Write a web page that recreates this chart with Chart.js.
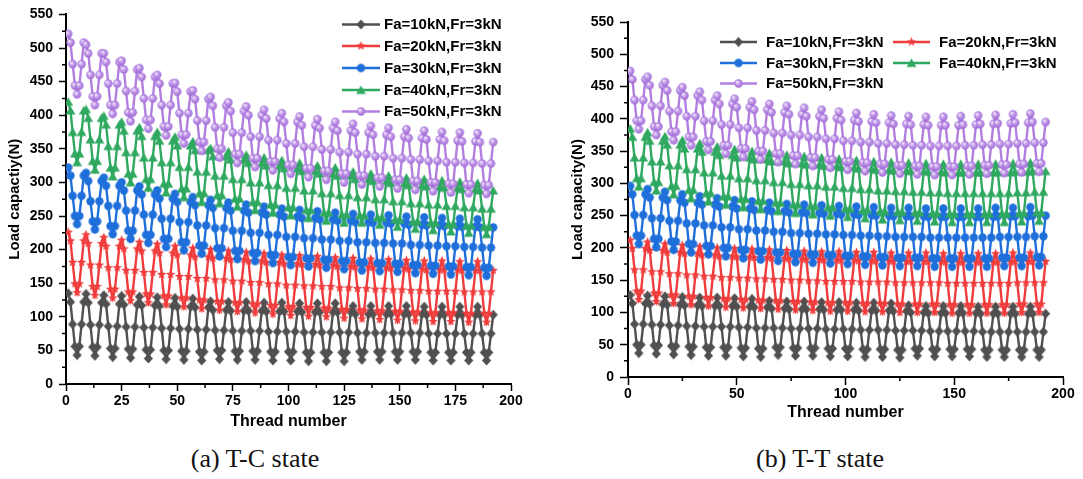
<!DOCTYPE html>
<html>
<head>
<meta charset="utf-8">
<script src="https://cdn.jsdelivr.net/npm/chart.js@4.4.1/dist/chart.umd.min.js"></script>
<style>
  body { margin: 0; background: #fff; }
  #wrap { position: relative; width: 1083px; height: 479px; overflow: hidden; }
  canvas { position: absolute; top: 0; }
  #chartA { left: 0; }
  #chartB { left: 545px; }
  .caption { position: absolute; top: 444px; font-family: "Liberation Serif", "Times New Roman", serif; font-size: 26px; color: #111; transform: translateX(-50%); white-space: nowrap; }
</style>
</head>
<body>
<div id="wrap">
  <canvas id="chartA" width="540" height="440"></canvas>
  <canvas id="chartB" width="538" height="440"></canvas>
  <div class="caption" style="left:255px">(a) T-C state</div>
  <div class="caption" style="left:820px">(b) T-T state</div>
</div>
<script>
// thread index along the nut, 192 threads
var threads = Array.from({ length: 192 }, function (_, i) { return i + 1; });

var seriesLabels = ["Fa=10kN,Fr=3kN", "Fa=20kN,Fr=3kN", "Fa=30kN,Fr=3kN", "Fa=40kN,Fr=3kN", "Fa=50kN,Fr=3kN"];

// (a) T-C state, load on each thread (N)
var aF10 = [
  135,122,89,56,43,56,89,122, 134,121,88,55,42,55,88,121,
  132,119,86,53,40,53,86,119, 131,118,85,52,39,52,85,118,
  130,117,84,51,38,51,84,117, 129,116,83,50,37,50,83,116,
  128,115,82,49,36,49,82,115, 127,114,81,48,35,48,81,114,
  123,110,80,50,37,50,80,110, 122,109,79,49,36,49,79,109,
  122,109,79,49,36,49,79,109, 121,108,78,48,35,48,78,108,
  121,108,78,48,35,48,78,108, 120,107,77,47,34,47,77,107,
  120,107,77,47,34,47,77,107, 120,107,77,47,34,47,77,107,
  116,104,76,48,36,48,76,104, 116,104,76,48,36,48,76,104,
  116,104,76,48,36,48,76,104, 116,104,76,48,36,48,76,104,
  115,103,75,47,35,47,75,103, 115,103,75,47,35,47,75,103,
  115,103,75,47,35,47,75,103, 115,103,75,47,35,47,75,103
];
var aF20 = [
  226,213,181,149,136,149,181,213, 222,209,177,145,132,145,177,209,
  218,205,173,141,128,141,173,205, 214,201,169,137,124,137,169,201,
  211,198,166,134,121,134,166,198, 208,195,163,131,118,131,163,195,
  205,192,160,128,115,128,160,192, 202,189,157,125,112,125,157,189,
  200,187,155,123,110,123,155,187, 198,185,153,121,108,121,153,185,
  196,183,151,119,106,119,151,183, 194,181,149,117,104,117,149,181,
  192,179,147,115,102,115,147,179, 191,178,146,114,101,114,146,178,
  190,177,145,113,100,113,145,177, 188,175,143,111,98,111,143,175,
  187,174,142,110,97,110,142,174, 186,173,141,109,96,109,141,173,
  185,172,140,108,95,108,140,172, 184,171,139,107,94,107,139,171,
  183,170,138,106,93,106,138,170, 183,170,138,106,93,106,138,170,
  182,169,137,105,92,105,137,169, 182,169,137,105,92,105,137,169
];
var aF30 = [
  322,310,280,250,238,250,280,310, 314,302,272,242,230,242,272,302,
  307,295,265,235,223,235,265,295, 300,288,258,228,216,228,258,288,
  294,282,252,222,210,222,252,282, 288,276,246,216,204,216,246,276,
  283,271,241,211,199,211,241,271, 278,266,236,206,194,206,236,266,
  274,262,232,202,190,202,232,262, 270,258,228,198,186,198,228,258,
  267,255,225,195,183,195,225,255, 264,252,222,192,180,192,222,252,
  261,249,219,189,177,189,219,249, 259,247,217,187,175,187,217,247,
  257,245,215,185,173,185,215,245, 255,243,213,183,171,183,213,243,
  253,241,211,181,169,181,211,241, 252,240,210,180,168,180,210,240,
  251,239,209,179,167,179,209,239, 249,237,207,177,165,177,207,237,
  248,236,206,176,164,176,206,236, 247,235,205,175,163,175,205,235,
  246,234,204,174,162,174,204,234, 245,233,203,173,161,173,203,233
];
var aF40 = [
  420,407,375,343,330,343,375,407, 409,396,364,332,319,332,364,396,
  399,386,354,322,309,322,354,386, 390,377,345,313,300,313,345,377,
  382,369,337,305,292,305,337,369, 375,362,330,298,285,298,330,362,
  368,355,323,291,278,291,323,355, 361,348,316,284,271,284,316,348,
  351,339,310,281,269,281,310,339, 346,334,305,276,264,276,305,334,
  341,329,300,271,259,271,300,329, 337,325,296,267,255,267,296,325,
  333,321,292,263,251,263,292,321, 329,317,288,259,247,259,288,317,
  325,313,284,255,243,255,284,313, 322,310,281,252,240,252,281,310,
  316,305,278,251,240,251,278,305, 313,302,275,248,237,248,275,302,
  310,299,272,245,234,245,272,299, 307,296,269,242,231,242,269,296,
  305,294,267,240,229,240,267,294, 303,292,265,238,227,238,265,292,
  301,290,263,236,225,236,263,290, 299,288,261,234,223,234,261,288
];
var aF50 = [
  521,508,476,444,431,444,476,508, 505,492,460,428,415,428,460,492,
  492,479,447,415,402,415,447,479, 481,468,436,404,391,404,436,468,
  470,457,425,393,380,393,425,457, 460,447,415,383,370,383,415,447,
  448,435,403,371,358,371,403,435, 437,424,392,360,347,360,392,424,
  427,414,382,350,337,350,382,414, 419,406,374,342,329,342,374,406,
  413,400,368,336,323,336,368,400, 408,395,363,331,318,331,363,395,
  403,390,358,326,313,326,358,390, 398,385,353,321,308,321,353,385,
  394,381,349,317,304,317,349,381, 390,377,345,313,300,313,345,377,
  387,374,342,310,297,310,342,374, 384,371,339,307,294,307,339,371,
  381,368,336,304,291,304,336,368, 379,366,334,302,289,302,334,366,
  377,364,332,300,287,300,332,364, 375,362,330,298,285,298,330,362,
  374,361,329,297,284,297,329,361, 373,360,328,296,283,296,328,360
];

// (b) T-T state, load on each thread (N)
var bF10 = [
  127,114,82,50,37,50,82,114, 126,113,81,49,36,49,81,113,
  125,112,80,48,35,48,80,112, 124,111,79,47,34,47,79,111,
  123,110,78,46,33,46,78,110, 123,110,78,46,33,46,78,110,
  122,109,77,45,32,45,77,109, 121,108,76,44,31,44,76,108,
  118,106,76,46,34,46,76,106, 117,105,75,45,33,45,75,105,
  117,105,75,45,33,45,75,105, 116,104,74,44,32,44,74,104,
  116,104,74,44,32,44,74,104, 115,103,73,43,31,43,73,103,
  115,103,73,43,31,43,73,103, 114,102,72,42,30,42,72,102,
  111,100,72,44,33,44,72,100, 110,99,71,43,32,43,71,99,
  110,99,71,43,32,43,71,99, 110,99,71,43,32,43,71,99,
  109,98,70,42,31,42,70,98, 109,98,70,42,31,42,70,98,
  109,98,70,42,31,42,70,98, 109,98,70,42,31,42,70,98
];
var bF20 = [
  212,199,166,133,120,133,166,199, 209,196,163,130,117,130,163,196,
  206,193,160,127,114,127,160,193, 204,191,158,125,112,125,158,191,
  202,189,156,123,110,123,156,189, 200,187,154,121,108,121,154,187,
  199,186,153,120,107,120,153,186, 198,185,152,119,106,119,152,185,
  197,184,151,118,105,118,151,184, 196,183,150,117,104,117,150,183,
  195,182,149,116,103,116,149,182, 194,181,148,115,102,115,148,181,
  194,181,148,115,102,115,148,181, 193,180,147,114,101,114,147,180,
  193,180,147,114,101,114,147,180, 192,179,146,113,100,113,146,179,
  192,179,146,113,100,113,146,179, 192,179,146,113,100,113,146,179,
  191,178,145,112,99,112,145,178, 191,178,145,112,99,112,145,178,
  191,178,145,112,99,112,145,178, 191,178,145,112,99,112,145,178,
  192,179,146,113,100,113,146,179, 192,179,146,113,100,113,146,179
];
var bF30 = [
  296,283,251,219,206,219,251,283, 291,278,246,214,201,214,246,278,
  287,274,242,210,197,210,242,274, 283,270,238,206,193,206,238,270,
  280,267,235,203,190,203,235,267, 277,264,232,200,187,200,232,264,
  274,261,229,197,184,197,229,261, 272,259,227,195,182,195,227,259,
  270,257,225,193,180,193,225,257, 268,255,223,191,178,191,223,255,
  267,254,222,190,177,190,222,254, 266,253,221,189,176,189,221,253,
  265,252,220,188,175,188,220,252, 264,251,219,187,174,187,219,251,
  263,250,218,186,173,186,218,250, 262,249,217,185,172,185,217,249,
  262,249,217,185,172,185,217,249, 261,248,216,184,171,184,216,248,
  261,248,216,184,171,184,216,248, 261,248,216,184,171,184,216,248,
  261,248,216,184,171,184,216,248, 262,249,217,185,172,185,217,249,
  262,249,217,185,172,185,217,249, 263,250,218,186,173,186,218,250
];
var bF40 = [
  385,372,340,308,295,308,340,372, 379,366,334,302,289,302,334,366,
  373,360,328,296,283,296,328,360, 367,354,322,290,277,290,322,354,
  362,349,317,285,272,285,317,349, 357,344,312,280,267,280,312,344,
  353,340,308,276,263,276,308,340, 350,337,305,273,260,273,305,337,
  347,334,302,270,257,270,302,334, 344,331,299,267,254,267,299,331,
  342,329,297,265,252,265,297,329, 340,327,295,263,250,263,295,327,
  338,325,293,261,248,261,293,325, 336,323,291,259,246,259,291,323,
  334,321,289,257,244,257,289,321, 333,320,288,256,243,256,288,320,
  332,319,287,255,242,255,287,319, 331,318,286,254,241,254,286,318,
  330,317,285,253,240,253,285,317, 330,317,285,253,240,253,285,317,
  330,317,285,253,240,253,285,317, 330,317,285,253,240,253,285,317,
  331,318,286,254,241,254,286,318, 332,319,287,255,242,255,287,319
];
var bF50 = [
  474,461,429,397,384,397,429,461, 465,452,420,388,375,388,420,452,
  457,444,412,380,367,380,412,444, 449,436,404,372,359,372,404,436,
  442,429,397,365,352,365,397,429, 436,423,391,359,346,359,391,423,
  431,418,386,354,341,354,386,418, 427,414,382,350,337,350,382,414,
  423,410,378,346,333,346,378,410, 420,407,375,343,330,343,375,407,
  417,404,372,340,327,340,372,404, 414,401,369,337,324,337,369,401,
  411,398,366,334,321,334,366,398, 409,396,364,332,319,332,364,396,
  407,394,362,330,317,330,362,394, 405,392,360,328,315,328,360,392,
  404,391,359,327,314,327,359,391, 403,390,358,326,313,326,358,390,
  403,390,358,326,313,326,358,390, 404,391,359,327,314,327,359,391,
  405,392,360,328,315,328,360,392, 406,393,361,329,316,329,361,393,
  407,394,362,330,317,330,362,394, 408,395,363,331,318,331,363,395
];

var FONT = '"Liberation Sans", Arial, sans-serif';

// marker glyphs drawn once and reused by both charts and the legends
function marker(kind, fill) {
  var c = document.createElement("canvas");
  c.width = 11; c.height = 11;
  var g = c.getContext("2d");
  g.translate(5.5, 5.5);
  g.beginPath();
  if (kind === "diamond") {
    g.moveTo(0, -5); g.lineTo(4.6, 0); g.lineTo(0, 5); g.lineTo(-4.6, 0);
  } else if (kind === "star") {
    for (var i = 0; i < 10; i++) {
      var r = i % 2 ? 2.1 : 5;
      var a = -Math.PI / 2 + i * Math.PI / 5;
      g.lineTo(r * Math.cos(a), r * Math.sin(a));
    }
  } else if (kind === "triangle") {
    g.moveTo(0, -4.6); g.lineTo(4.9, 4); g.lineTo(-4.9, 4);
  } else {
    g.arc(0, 0, 4.2, 0, Math.PI * 2);
  }
  g.closePath();
  if (kind === "sphere") {
    var grad = g.createRadialGradient(-1.4, -1.6, 0.4, 0, 0, 4.4);
    grad.addColorStop(0, "#f3e8fc");
    grad.addColorStop(0.45, "#c29ae8");
    grad.addColorStop(1, "#9b63d6");
    g.fillStyle = grad;
  } else {
    g.fillStyle = fill;
  }
  g.fill();
  return c;
}

var colors = ["#505050", "#f03c3c", "#1f6fdb", "#2fa860", "#b27fe0"];
var glyphs = [
  marker("diamond", colors[0]),
  marker("star", colors[1]),
  marker("circle", colors[2]),
  marker("triangle", colors[3]),
  marker("sphere", colors[4])
];

function toPoints(values) {
  return values.map(function (v, i) { return { x: threads[i], y: v }; });
}

function buildDatasets(seriesList) {
  return seriesList.map(function (values, i) {
    return {
      label: seriesLabels[i],
      data: toPoints(values),
      borderColor: colors[i],
      backgroundColor: colors[i],
      borderWidth: 2.4,
      pointStyle: glyphs[i],
      pointRadius: 4,
      tension: 0,
      order: 5 - i
    };
  });
}

// line + marker + text legend entries
var lineLegend = {
  id: "lineLegend",
  afterDraw: function (chart, args, opts) {
    var ctx = chart.ctx;
    opts.items.forEach(function (it) {
      var ds = chart.data.datasets[it.i];
      ctx.save();
      ctx.strokeStyle = ds.borderColor;
      ctx.lineWidth = 2.4;
      ctx.beginPath();
      ctx.moveTo(it.x, it.y);
      ctx.lineTo(it.x + opts.len, it.y);
      ctx.stroke();
      var img = ds.pointStyle;
      ctx.drawImage(img, it.x + opts.len / 2 - img.width / 2, it.y - img.height / 2);
      ctx.fillStyle = "#000";
      ctx.font = "bold 15px " + FONT;
      ctx.textBaseline = "middle";
      ctx.fillText(ds.label, it.x + opts.len + opts.gap, it.y + 0.5);
      ctx.restore();
    });
  }
};

// short unlabeled ticks between the major ones
var minorTicks = {
  id: "minorTicks",
  afterDraw: function (chart, args, opts) {
    var ctx = chart.ctx;
    var xs = chart.scales.x, ys = chart.scales.y;
    ctx.save();
    ctx.strokeStyle = "#000";
    ctx.lineWidth = 1.5;
    ctx.beginPath();
    for (var v = opts.xStep; v < xs.max; v += opts.xStep * 2) {
      var px = xs.getPixelForValue(v);
      ctx.moveTo(px, ys.bottom);
      ctx.lineTo(px, ys.bottom + 4);
    }
    for (var w = opts.yStep; w < ys.max; w += opts.yStep * 2) {
      var py = ys.getPixelForValue(w);
      ctx.moveTo(xs.left, py);
      ctx.lineTo(xs.left - 4, py);
    }
    ctx.stroke();
    ctx.restore();
  }
};

function makeChart(id, seriesList, cfg) {
  var ctx = document.getElementById(id).getContext("2d");
  return new Chart(ctx, {
    type: "line",
    data: { datasets: buildDatasets(seriesList) },
    plugins: [lineLegend, minorTicks],
    options: {
      responsive: false,
      animation: false,
      layout: { padding: cfg.padding },
      plugins: {
        legend: { display: false },
        tooltip: { enabled: false },
        lineLegend: cfg.legend,
        minorTicks: { xStep: cfg.xStep / 2, yStep: 25 }
      },
      scales: {
        x: {
          type: "linear",
          min: 0,
          max: 200,
          afterFit: function (s) { s.height = cfg.xHeight; },
          border: { color: "#000", width: 2 },
          grid: { drawOnChartArea: false, tickLength: cfg.tickLen, tickWidth: 1.5, tickColor: "#000" },
          ticks: { stepSize: cfg.xStep, color: "#000", padding: cfg.xPad, maxRotation: 0, font: { family: FONT, size: 14, weight: "bold" } },
          title: { display: true, text: "Thread number", color: "#000", padding: { top: 0, bottom: cfg.xTitlePad }, font: { family: FONT, size: 16, weight: "bold" } }
        },
        y: {
          min: 0,
          max: 550,
          afterFit: function (s) { s.width = cfg.yWidth; },
          border: { color: "#000", width: 2 },
          grid: { drawOnChartArea: false, tickLength: cfg.tickLen, tickWidth: 1.5, tickColor: "#000" },
          ticks: { stepSize: 50, color: "#000", padding: 6, font: { family: FONT, size: 14, weight: "bold" } },
          title: { display: true, text: cfg.yTitle, color: "#000", padding: { top: cfg.yTitlePad, bottom: 0 }, font: { family: FONT, size: 15, weight: "bold" } }
        }
      }
    }
  });
}

makeChart("chartA", [aF10, aF20, aF30, aF40, aF50], {
  padding: { left: 0, top: 14, right: 29, bottom: 0 },
  yWidth: 66,
  xHeight: 56,
  xStep: 25,
  tickLen: 7,
  xPad: 2,
  xTitlePad: 9,
  yTitlePad: 6,
  yTitle: "Load capactiy(N)",
  legend: {
    len: 38, gap: 4,
    items: [
      { i: 0, x: 342, y: 24.5 },
      { i: 1, x: 342, y: 46 },
      { i: 2, x: 342, y: 68 },
      { i: 3, x: 342, y: 90 },
      { i: 4, x: 342, y: 111.5 }
    ]
  }
});

makeChart("chartB", [bF10, bF20, bF30, bF40, bF50], {
  padding: { left: 0, top: 22, right: 20, bottom: 0 },
  yWidth: 83,
  xHeight: 63,
  xStep: 50,
  tickLen: 8,
  xPad: 1,
  xTitlePad: 18,
  yTitlePad: 24,
  yTitle: "Load capacity(N)",
  legend: {
    len: 37, gap: 9,
    items: [
      { i: 0, x: 175, y: 42 },
      { i: 1, x: 348, y: 42 },
      { i: 2, x: 175, y: 63 },
      { i: 3, x: 348, y: 63 },
      { i: 4, x: 175, y: 83.5 }
    ]
  }
});
</script>
</body>
</html>
